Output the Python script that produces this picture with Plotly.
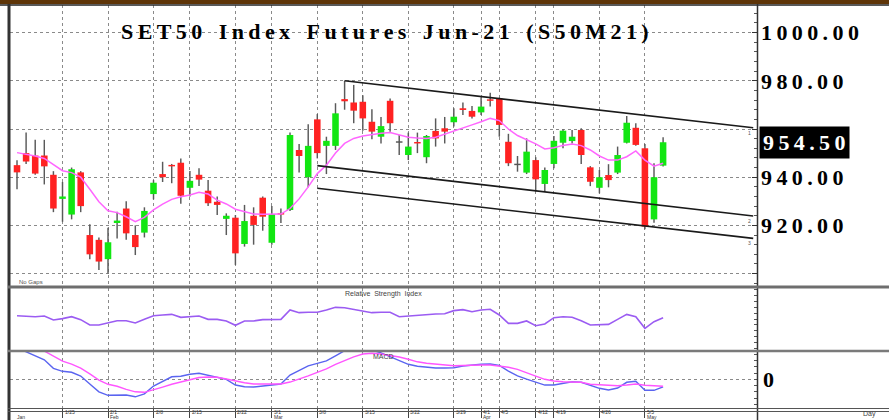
import plotly.graph_objects as go

# ---------------- data ----------------
dates = ["1/18","1/19","1/20","1/21","1/22","1/25","1/26","1/27","1/28","1/29",
         "2/1","2/2","2/3","2/4","2/5","2/8","2/9","2/10","2/11","2/15",
         "2/16","2/17","2/18","2/19","2/22","2/23","2/24","2/25","3/1","3/2",
         "3/3","3/4","3/5","3/8","3/9","3/10","3/11","3/12","3/15","3/16",
         "3/17","3/18","3/19","3/22","3/23","3/24","3/25","3/26","3/29","3/30",
         "3/31","4/1","4/2","4/5","4/7","4/8","4/9","4/12","4/16","4/19",
         "4/20","4/21","4/22","4/23","4/26","4/27","4/28","4/29","4/30","5/5",
         "5/6","5/7"]

opens = [945, 950, 949, 949, 941, 931, 924.5, 942, 916, 914,
         906, 921, 927, 916, 917, 933, 941.3, 945, 946, 935.6,
         941, 934.4, 929.8, 922.7, 923.2, 912.3, 924, 931.5, 912.8, 925,
         926.4, 951.3, 940, 964, 953, 953, 972.4, 971, 971.3, 963,
         956.8, 971.7, 954.5, 949.2, 954.5, 948.3, 959.2, 960.3, 962.8, 968.6,
         967.5, 966.9, 972.3, 972.7, 954.7, 945.2, 941.9, 947.1, 937.2, 945.5,
         954.3, 955, 959.6, 944.1, 935.6, 940.9, 941.9, 954.3, 960.5, 952,
         922.5, 944.8]
highs = [947, 958.5, 955.5, 955.5, 942.5, 938, 944, 942.5, 920.5, 915,
         919, 925.7, 930, 920, 927.5, 938.8, 946.4, 945.5, 947.8, 942.6,
         943.7, 938.8, 932, 925, 924.3, 928.5, 927.5, 932, 928, 927,
         958.5, 953.8, 962, 966.2, 956.8, 970.7, 980, 978.3, 974, 968.2,
         965, 972.7, 957.5, 958.5, 958.5, 957.5, 964.4, 965, 968.6, 971,
         969.5, 973.2, 975, 973, 958, 948.8, 956.1, 948.3, 944, 957.1,
         959.9, 959.6, 960.3, 944.6, 943, 945.4, 952.7, 965.4, 962.4, 953.8,
         945.8, 956.6]
lows = [935, 945.5, 941, 937, 925.5, 921.5, 922.5, 925.5, 906, 901.5,
        900, 914.6, 914, 907.7, 915, 930.8, 938, 937.5, 929, 932,
        936.3, 928, 924.3, 916, 903.6, 911.2, 912, 917.8, 912, 921,
        926, 942, 935.8, 947.8, 941.3, 951.3, 968, 962.4, 959.3, 955.7,
        954, 958.9, 949.2, 947.1, 950, 945.8, 952.7, 954, 961, 965.8,
        964.4, 965.8, 969.3, 956.8, 944.6, 942.3, 941.3, 934, 934, 943.7,
        952, 954, 945.5, 936.3, 933.3, 935.8, 941.3, 954, 953, 918.4,
        921.1, 944.4]
closes = [942, 946.5, 941.5, 944.5, 927, 932, 943.3, 928, 908, 905,
          913, 922, 916.7, 911, 926, 937.7, 940, 944.5, 932.3, 938.5,
          939, 929.2, 928.5, 924, 908.4, 921.8, 920.2, 923.6, 924.7, 924.5,
          957.5, 948.8, 953, 950, 955.1, 966.5, 971.5, 967.6, 964.4, 958.9,
          961.2, 962.4, 954.3, 952.7, 954, 957.1, 956.1, 958.9, 965.1, 967.9,
          965.1, 969.3, 971.7, 961.7, 945.8, 945, 950.6, 939.1, 943, 955.1,
          959.3, 956.8, 949.2, 938.1, 940, 938.8, 949.2, 962.6, 953.4, 919.5,
          940, 954.5]
moving_avg = [950.2, 949.6, 948.8, 947.8, 945.1, 942.7, 941.9, 940.0, 935.0, 929.8,
              926.1, 925.3, 923.6, 921.5, 923.3, 926.4, 928.8, 930.8, 931.9, 932.6,
              933.7, 933.0, 930.5, 928.9, 926.7, 925.7, 924.7, 924.6, 924.6, 924.7,
              927.0, 931.0, 936.0, 941.5, 945.0, 950.0, 954.0, 956.1, 957.1, 957.8,
              958.2, 958.5, 957.5, 956.6, 956.3, 956.1, 956.6, 957.8, 959.2, 960.5,
              961.7, 963.0, 964.4, 963.5, 960.0, 957.3, 955.7, 953.8, 951.7, 952.2,
              953.2, 953.8, 953.1, 951.3, 948.8, 947.1, 947.1, 948.5, 950.9, 947.1,
              944.6, 945.8]
rsi = [55.7, 55.2, 54.0, 55.2, 48.3, 50.6, 54.0, 48.9, 39.7, 39.7,
       43.7, 47.1, 47.1, 43.1, 49.4, 55.7, 56.9, 58.0, 52.9, 54.6,
       55.2, 49.4, 49.4, 46.6, 39.1, 46.6, 46.6, 48.9, 49.4, 49.4,
       65.5, 60.9, 61.5, 61.5, 65.5, 70.1, 69.5, 66.7, 64.4, 60.9,
       61.5, 61.5, 54.0, 55.2, 56.9, 58.0, 58.6, 59.0, 64.4, 66.1,
       62.6, 65.5, 66.7, 56.9, 42.5, 42.5, 46.6, 38.5, 41.4, 52.3,
       54.0, 52.9, 47.1, 39.7, 40.8, 40.8, 49.4, 58.0, 54.0, 33.9,
       45.4, 52.3]
macd = [12.6, 11.0, 9.4, 7.8, 4.4, 3.2, 2.8, 1.3, -1.9, -5.0,
        -6.4, -6.3, -6.3, -7.0, -5.8, -2.7, -0.8, 1.0, 1.2, 2.0,
        2.4, 1.7, 0.9, 0.0, -2.3, -3.0, -3.1, -2.7, -2.2, -1.9,
        1.7, 3.6, 5.4, 6.4, 7.4, 9.4, 11.7, 13.5, 13.0, 11.6,
        10.6, 9.0, 7.3, 6.0, 5.2, 4.8, 4.5, 4.5, 4.6, 5.3,
        5.7, 6.0, 6.1, 5.6, 3.3, 1.4, 0.1, -1.0, -2.3, -2.3,
        -1.6, -1.0, -1.2, -2.5, -3.6, -4.3, -3.5, -1.2, -0.8, -4.4,
        -4.4, -3.0]
macd_signal = [17.0, 15.4, 13.3, 11.3, 9.2, 7.3, 6.1, 4.5, 2.2, -0.3,
               -2.0, -2.8, -4.0, -5.0, -5.2, -4.3, -3.1, -2.0, -1.2, -0.3,
               0.7, 0.9, 0.8, 0.1, -0.7, -1.4, -1.9, -2.0, -2.0, -1.9,
               -1.1, 0.0, 1.4, 2.8, 4.2, 6.0, 7.6, 9.0, 10.1, 10.4,
               10.1, 9.6, 8.9, 8.0, 7.0, 6.4, 6.0, 5.7, 5.4, 5.5,
               5.7, 5.7, 5.7, 5.4, 4.8, 4.0, 2.8, 1.3, 0.0, -0.7,
               -1.0, -1.0, -1.2, -2.0, -2.3, -2.6, -2.6, -2.3, -1.9, -2.4,
               -2.7, -2.8]

# channel lines (start/end in bar-index units and price)
channel_upper_x = [36, 80.9]
channel_upper_y = [980.0, 960.5]
channel_mid_x = [33, 80.9]
channel_mid_y = [944.8, 923.9]
channel_low_x = [33, 80.9]
channel_low_y = [935.4, 914.6]

date_tick_idx = [5, 10, 15, 19, 24, 28, 33, 38, 43, 48, 51, 53, 57, 59, 64, 69]
date_tick_text = ["1/25", "2/1", "2/8", "2/15", "2/22", "3/1", "3/8", "3/15",
                  "3/22", "3/29", "4/1", "4/5", "4/12", "4/19", "4/26", "5/5"]
month_tick_idx = [-0.2, 10, 28, 51, 69]
month_tick_text = ["Jan", "Feb", "Mar", "Apr", "May"]
price_ticks = [900, 920, 940, 960, 980, 1000]
price_tick_text = ["", "920.00", "940.00", "", "980.00", "1000.00"]
last_price_label = "954.50"
last_price = 954.5
title_words = ["SET50", "Index", "Futures", "Jun-21", "(S50M21)"]

# ---------------- helpers ----------------
TS = "\u2009"  # thin space used as letter spacing
NB = "\u00a0"


def spaced(s):
    return TS.join(s)


W, H = 889, 420
ML, MR, MT, MB = 10, 132, 5, 12
PW, PH = W - ML - MR, H - MT - MB


def px_x(p):
    return (p - ML) / PW


def px_y(p):
    return (H - MB - p) / PH


idx = list(range(len(dates)))
GREEN, RED, DOJI = "#12e612", "#ff2222", "#555555"
body_base, body_h, body_col = [], [], []
for o, c in zip(opens, closes):
    lo, hi = min(o, c), max(o, c)
    h = max(hi - lo, 0.6)
    body_base.append(lo)
    body_h.append(h)
    if abs(c - o) < 0.3:
        body_col.append(DOJI)
    elif c > o:
        body_col.append(GREEN)
    else:
        body_col.append(RED)
wick_h = [h - l for h, l in zip(highs, lows)]

SERIF = "Liberation Serif, Times New Roman, serif"
SANS = "Liberation Sans, Arial, sans-serif"

fig = go.Figure()
fig.add_trace(go.Bar(x=idx, y=wick_h, base=lows, width=0.16, marker=dict(color="#5a5a5a", line=dict(width=0)),
                     xaxis="x2", yaxis="y", hoverinfo="skip"))
fig.add_trace(go.Bar(x=idx, y=body_h, base=body_base, width=0.72, marker=dict(color=body_col, line=dict(width=0)),
                     xaxis="x2", yaxis="y", customdata=dates, hovertemplate="%{customdata}<extra></extra>"))
fig.add_trace(go.Scatter(x=idx, y=moving_avg, mode="lines", line=dict(color="#ff66ff", width=1.5),
                         xaxis="x2", yaxis="y", hoverinfo="skip"))
for cx, cy in [(channel_upper_x, channel_upper_y), (channel_mid_x, channel_mid_y), (channel_low_x, channel_low_y)]:
    fig.add_trace(go.Scatter(x=cx, y=cy, mode="lines", line=dict(color="#1a1a1a", width=1.6),
                             xaxis="x2", yaxis="y", hoverinfo="skip"))
fig.add_trace(go.Scatter(x=idx, y=rsi, mode="lines", line=dict(color="#9b5cf2", width=1.6),
                         xaxis="x3", yaxis="y2", hoverinfo="skip"))
fig.add_trace(go.Scatter(x=idx, y=macd, mode="lines", line=dict(color="#5a64f0", width=1.4),
                         xaxis="x", yaxis="y3", hoverinfo="skip"))
fig.add_trace(go.Scatter(x=idx, y=macd_signal, mode="lines", line=dict(color="#ff55ff", width=1.4),
                         xaxis="x", yaxis="y3", hoverinfo="skip"))

xr = [-0.77, -0.77 + PW / 9.1]
grid = dict(showgrid=True, gridcolor="#8a8a8a", griddash="dot", gridwidth=1)
xcommon = dict(range=xr, tickmode="array", tickvals=date_tick_idx, zeroline=False, fixedrange=True,
               automargin=False, **grid)

main_dom = [px_y(286), 1]
rsi_dom = [px_y(350), px_y(288)]
macd_dom = [0, px_y(352)]

yr_main = [960 - (286 - 129) / 2.41, 960 + (129 - MT) / 2.41]

fig.update_layout(
    width=W, height=H, margin=dict(l=ML, r=MR, t=MT, b=MB, autoexpand=False),
    paper_bgcolor="white", plot_bgcolor="white", showlegend=False, barmode="overlay",
    xaxis=dict(anchor="y3", showticklabels=False, ticks="outside", ticklen=9, tickcolor="#444", **xcommon),
    xaxis2=dict(anchor="y", matches="x", showticklabels=False, ticks="", **xcommon),
    xaxis3=dict(anchor="y2", matches="x", showticklabels=False, ticks="", **xcommon),
    yaxis=dict(domain=main_dom, range=yr_main, side="right", tickmode="array", tickvals=price_ticks,
               ticktext=["<b>" + spaced(t) + "</b>" if t else "" for t in price_tick_text],
               tickfont=dict(family=SERIF, size=22, color="black"), ticks="inside", ticklen=5,
               tickcolor="#333", minor=dict(ticks="inside", ticklen=3, dtick=4, tickcolor="#555", showgrid=False),
               zeroline=False, fixedrange=True, ticklabelstandoff=3, automargin=False, **grid),
    yaxis2=dict(domain=rsi_dom, range=[-3.4, 103.4], side="right", showticklabels=False, ticks="inside",
                ticklen=3, tickcolor="#555", dtick=10, showgrid=False, zeroline=False, fixedrange=True,
                automargin=False),
    yaxis3=dict(domain=macd_dom, range=[-11.48, 10.92], side="right", tickmode="array", tickvals=[0],
                ticktext=["<b>0</b>"], tickfont=dict(family=SERIF, size=22, color="black"), ticks="",
                minor=dict(ticks="inside", ticklen=3, dtick=2.5, tickcolor="#555", showgrid=False),
                zeroline=False, fixedrange=True, ticklabelstandoff=5, automargin=False, **grid),
)

shapes = []
# frame: top brown band, left thick edge, right divider, panel separators
shapes.append(dict(type="rect", xref="paper", yref="paper", x0=px_x(0), x1=px_x(W), y0=px_y(4), y1=px_y(0),
                   fillcolor="#5e3508", line=dict(width=0), layer="above"))
shapes.append(dict(type="line", xref="paper", yref="paper", x0=px_x(0), x1=px_x(W), y0=px_y(5), y1=px_y(5),
                   line=dict(color="#222", width=1.5), layer="above"))
shapes.append(dict(type="line", xref="paper", yref="paper", x0=px_x(9), x1=px_x(9), y0=px_y(H), y1=px_y(4),
                   line=dict(color="#333", width=3), layer="above"))
shapes.append(dict(type="line", xref="paper", yref="paper", x0=px_x(757.5), x1=px_x(757.5), y0=px_y(H),
                   y1=px_y(4), line=dict(color="#333", width=1.5), layer="above"))
for yy, wdt, col in [(287, 3, "#6e6e6e"), (351, 2.5, "#7a7a7a"), (408.5, 1, "#555"), (411.5, 1, "#555")]:
    shapes.append(dict(type="line", xref="paper", yref="paper", x0=px_x(8), x1=px_x(W), y0=px_y(yy),
                       y1=px_y(yy), line=dict(color=col, width=wdt), layer="above"))
fig.update_layout(shapes=shapes)

title_html = "<b>" + (NB * 3).join(spaced(w) for w in title_words) + "</b>"
ann = []
ann.append(dict(xref="paper", yref="paper", x=px_x(385), y=px_y(32), text=title_html,
                showarrow=False, font=dict(family=SERIF, size=22, color="black"), xanchor="center", yanchor="middle"))
ann.append(dict(xref="paper", yref="y", x=px_x(759), y=last_price, text="<b>" + spaced(last_price_label) + "</b>",
                showarrow=False, font=dict(family=SERIF, size=22, color="white"), bgcolor="black",
                xanchor="left", yanchor="middle", borderpad=3))
ann.append(dict(xref="paper", yref="paper", x=px_x(17), y=px_y(282), text="No Gaps", showarrow=False,
                font=dict(family=SANS, size=6, color="#555"), xanchor="left", yanchor="middle"))
ann.append(dict(xref="paper", yref="paper", x=px_x(383), y=px_y(294), text="Relative  Strength  Index",
                showarrow=False, font=dict(family=SANS, size=7, color="#444"), xanchor="center", yanchor="middle"))
ann.append(dict(xref="paper", yref="paper", x=px_x(383), y=px_y(356), text="MACD", showarrow=False,
                font=dict(family=SANS, size=7, color="#444"), xanchor="center", yanchor="middle"))
ann.append(dict(xref="paper", yref="paper", x=px_x(878), y=px_y(414), text="Day", showarrow=False,
                font=dict(family=SANS, size=7, color="#444"), xanchor="right", yanchor="middle"))
# date labels beside their tick marks on the bottom axis, month names below them
for tv, tt in zip(date_tick_idx, date_tick_text):
    ann.append(dict(xref="x", yref="paper", x=tv, xshift=1, y=px_y(411.8), text=tt, showarrow=False,
                    font=dict(family=SANS, size=5, color="#333"), xanchor="left", yanchor="middle",
                    borderpad=0))
for tv, tt in zip(month_tick_idx, month_tick_text):
    ann.append(dict(xref="x", yref="paper", x=tv, xshift=1, y=px_y(416.6), text=tt, showarrow=False,
                    font=dict(family=SANS, size=5, color="#333"), xanchor="left", yanchor="middle",
                    borderpad=0))
for lbl, cy in zip(["1", "2", "3"], [channel_upper_y[1], channel_mid_y[1], channel_low_y[1]]):
    ann.append(dict(xref="paper", yref="y", x=px_x(753), y=cy, yshift=-5, text=lbl, showarrow=False,
                    font=dict(family=SANS, size=5, color="#555"), xanchor="right", yanchor="middle"))
fig.update_layout(annotations=ann)

fig.write_html("out.html", config={"displayModeBar": False, "staticPlot": True},
               post_script="document.body.style.margin='0';")
